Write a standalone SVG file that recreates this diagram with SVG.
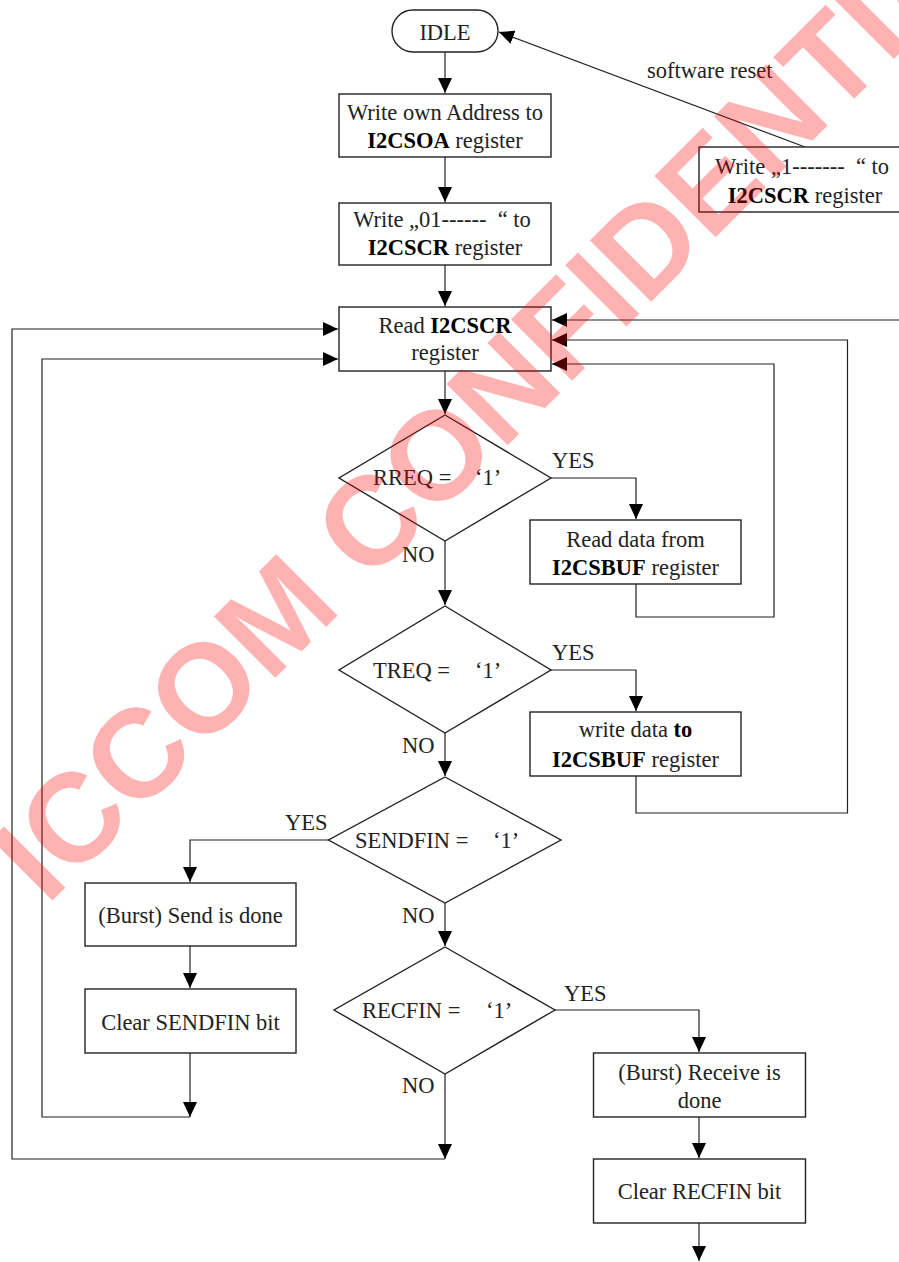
<svg xmlns="http://www.w3.org/2000/svg" width="899" height="1262" viewBox="0 0 899 1262">
<style>
.box{fill:#fff;stroke:#222;stroke-width:1.4}
.ln{fill:none;stroke:#222;stroke-width:1.2}
.t{font-family:"Liberation Serif","Times New Roman",serif;font-size:22.5px;fill:#222;white-space:pre}
.c{text-anchor:middle}
.b{font-weight:bold;fill:#000}
.wm{font-family:"Liberation Sans",Arial,sans-serif;font-weight:bold;font-size:126px;fill:#ff0000;fill-opacity:0.3}
</style>
<defs>
<marker id="ah" markerUnits="userSpaceOnUse" markerWidth="16" markerHeight="14" refX="15" refY="7" orient="auto">
<path d="M0,0 L15,7 L0,14 z" fill="#000"/>
</marker>
</defs>
<rect width="899" height="1262" fill="#fff"/>
<g id="connectors">
<path class="ln" d="M445,52 V93" marker-end="url(#ah)"/>
<path class="ln" d="M445,157 V202" marker-end="url(#ah)"/>
<path class="ln" d="M445,265 V306" marker-end="url(#ah)"/>
<path class="ln" d="M445,371 V414" marker-end="url(#ah)"/>
<path class="ln" d="M551,478 H636 V519" marker-end="url(#ah)"/>
<path class="ln" d="M636,584 V617 H774 V364 H552" marker-end="url(#ah)"/>
<path class="ln" d="M445,541 V605" marker-end="url(#ah)"/>
<path class="ln" d="M551,670 H636 V711" marker-end="url(#ah)"/>
<path class="ln" d="M636,776 V813 H847.5 V340 H552" marker-end="url(#ah)"/>
<path class="ln" d="M445,733 V776" marker-end="url(#ah)"/>
<path class="ln" d="M328.5,840 H190 V882" marker-end="url(#ah)"/>
<path class="ln" d="M190,946 V988" marker-end="url(#ah)"/>
<path class="ln" d="M190,1053 V1117" marker-end="url(#ah)"/>
<path class="ln" d="M190,1117 H42 V359 H338" marker-end="url(#ah)"/>
<path class="ln" d="M445,903 V946" marker-end="url(#ah)"/>
<path class="ln" d="M555,1010 H699 V1052" marker-end="url(#ah)"/>
<path class="ln" d="M699,1117 V1158" marker-end="url(#ah)"/>
<path class="ln" d="M699,1223 V1261" marker-end="url(#ah)"/>
<path class="ln" d="M445,1074 V1159" marker-end="url(#ah)"/>
<path class="ln" d="M445,1159 H12 V329 H338" marker-end="url(#ah)"/>
<path class="ln" d="M899,320 H552" marker-end="url(#ah)"/>
<path class="ln" d="M805,147 L499,32" marker-end="url(#ah)"/>
<text class="t" x="647" y="78">software reset</text>
<text class="t" x="552" y="468">YES</text>
<text class="t" x="402" y="562">NO</text>
<text class="t" x="552" y="660">YES</text>
<text class="t" x="402" y="753">NO</text>
<text class="t" x="285" y="830">YES</text>
<text class="t" x="402" y="923">NO</text>
<text class="t" x="564" y="1001">YES</text>
<text class="t" x="402" y="1093">NO</text>
</g>
<g id="idle">
<rect class="box" x="392" y="10" width="106" height="42" rx="21" ry="21"/>
<text class="t c" x="445" y="40">IDLE</text>
</g>
<g id="write-own-address">
<rect class="box" x="339" y="94" width="212" height="63"/>
<text class="t c" x="445" y="120">Write own Address to</text>
<text class="t c" x="445" y="148"><tspan class="b">I2CSOA</tspan> register</text>
</g>
<g id="write-01">
<rect class="box" x="339" y="203" width="212" height="62"/>
<text class="t c" x="442" y="227">Write „01------  “ to</text>
<text class="t c" x="445" y="255"><tspan class="b">I2CSCR</tspan> register</text>
</g>
<g id="write-1">
<rect class="box" x="699" y="147" width="210" height="65"/>
<text class="t c" x="802" y="174">Write „1-------  “ to</text>
<text class="t c" x="805" y="203"><tspan class="b">I2CSCR</tspan> register</text>
</g>
<g id="read-i2cscr">
<rect class="box" x="339" y="307" width="212" height="64"/>
<text class="t c" x="445" y="333">Read <tspan class="b">I2CSCR</tspan></text>
<text class="t c" x="445" y="360">register</text>
</g>
<g id="rreq">
<polygon class="box" points="445,415 551,478 445,541 339,478"/>
<text class="t" x="373" y="485">RREQ =<tspan x="475">‘1’</tspan></text>
</g>
<g id="read-data">
<rect class="box" x="530" y="520" width="211" height="64"/>
<text class="t c" x="635.5" y="547">Read data from</text>
<text class="t c" x="635.5" y="575"><tspan class="b">I2CSBUF</tspan> register</text>
</g>
<g id="treq">
<polygon class="box" points="445,606 551,670 445,733 339,670"/>
<text class="t" x="373" y="678">TREQ =<tspan x="475">‘1’</tspan></text>
</g>
<g id="write-data">
<rect class="box" x="530" y="712" width="211" height="64"/>
<text class="t c" x="635.5" y="737">write data <tspan class="b">to</tspan></text>
<text class="t c" x="635.5" y="767"><tspan class="b">I2CSBUF</tspan> register</text>
</g>
<g id="sendfin">
<polygon class="box" points="445,777 561,840 445,903 328.5,840"/>
<text class="t" x="355" y="848">SENDFIN =<tspan x="493">‘1’</tspan></text>
</g>
<g id="send-done">
<rect class="box" x="85" y="883" width="211" height="63"/>
<text class="t c" x="190.5" y="923">(Burst) Send is done</text>
</g>
<g id="clear-sendfin">
<rect class="box" x="85" y="989" width="211" height="64"/>
<text class="t c" x="190.5" y="1030">Clear SENDFIN bit</text>
</g>
<g id="recfin">
<polygon class="box" points="445,947 555,1010 445,1074 334,1010"/>
<text class="t" x="362" y="1018">RECFIN =<tspan x="486">‘1’</tspan></text>
</g>
<g id="receive-done">
<rect class="box" x="593.5" y="1053" width="212" height="64"/>
<text class="t c" x="699.5" y="1080">(Burst) Receive is</text>
<text class="t c" x="699.5" y="1108">done</text>
</g>
<g id="clear-recfin">
<rect class="box" x="593.5" y="1159" width="212" height="64"/>
<text class="t c" x="699.5" y="1199">Clear RECFIN bit</text>
</g>
<text class="wm" transform="translate(46.5,906.5) rotate(-45)">ICCOM CONFIDENTIAL</text>
</svg>
